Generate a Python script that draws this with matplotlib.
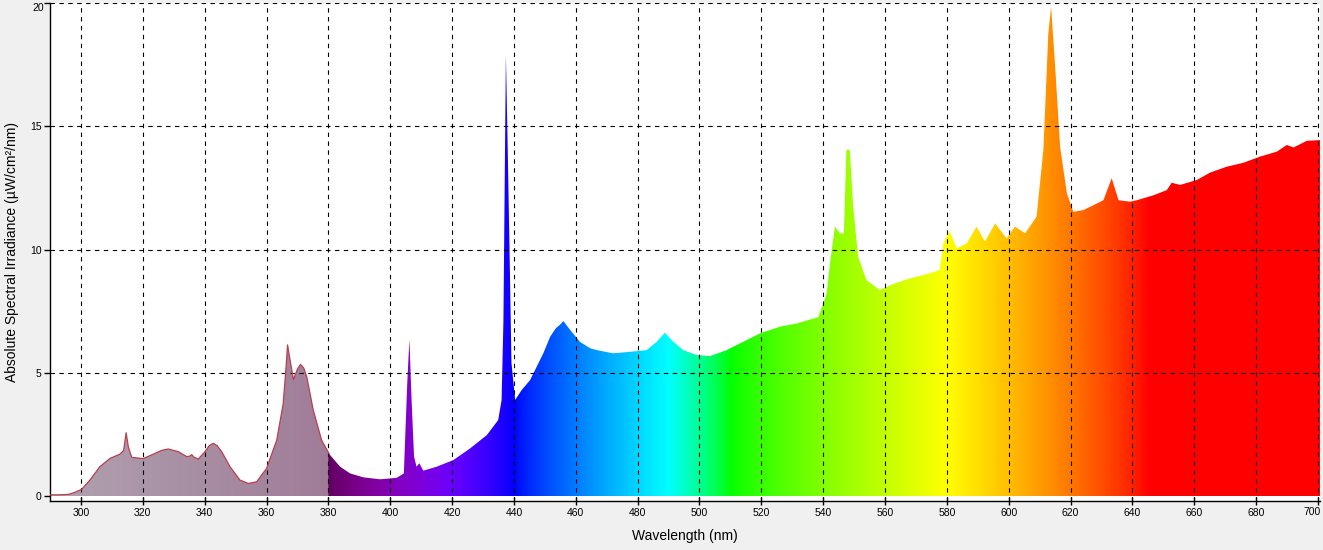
import numpy as np
import matplotlib
matplotlib.use("Agg")
import matplotlib.pyplot as plt
from matplotlib.patches import Polygon

plt.rcParams["font.family"] = ["Liberation Sans", "DejaVu Sans"]

# spectrum (nm, uW/cm2/nm)
wavelength = np.array([
    290.0, 293.0, 296.0, 298.0, 300.2, 302.9, 306.1, 309.4, 312.6, 313.8,
    314.6, 315.3, 316.4, 320.1, 323.4, 326.0, 328.2, 331.5, 334.2, 335.2,
    335.8, 336.5, 337.9, 340.1, 341.5, 342.8, 344.0, 345.5, 348.2, 351.4,
    354.1, 356.8, 360.0, 363.3, 365.4, 366.3, 366.8, 367.5, 368.7, 370.0,
    371.0, 372.0, 373.0, 375.1, 377.8, 380.3, 383.8, 387.0, 391.3, 396.7,
    402.1, 404.4, 405.5, 406.2, 406.9, 407.7, 408.5, 409.4, 410.7, 415.0,
    420.4, 425.8, 431.2, 434.9, 436.0, 436.6, 437.0, 437.4, 438.0, 438.5,
    439.2, 440.4, 442.5, 445.2, 449.5, 451.7, 453.5, 454.9, 456.0, 458.1,
    461.4, 464.6, 466.8, 472.1, 477.5, 482.9, 486.2, 488.8, 491.5, 494.8,
    499.1, 503.4, 508.8, 514.2, 519.6, 526.0, 531.4, 536.8, 538.4, 541.1,
    542.2, 543.8, 545.4, 546.7, 547.5, 548.6, 549.7, 551.3, 554.0, 558.3,
    562.6, 568.0, 573.4, 577.7, 578.8, 580.4, 581.0, 583.2, 586.4, 589.6,
    592.3, 595.6, 599.3, 602.0, 605.3, 609.0, 611.2, 612.8, 613.7, 615.0,
    616.6, 618.8, 620.9, 624.1, 627.4, 630.6, 633.3, 635.5, 639.2, 641.4,
    646.8, 651.1, 652.7, 655.4, 660.8, 665.1, 670.5, 675.9, 681.3, 686.7,
    689.9, 692.1, 696.4, 700.7,
])
irradiance = np.array([
    0.05, 0.05, 0.07, 0.15, 0.27, 0.65, 1.19, 1.53, 1.70, 1.85,
    2.57, 2.00, 1.57, 1.52, 1.70, 1.85, 1.91, 1.80, 1.60, 1.62,
    1.68, 1.58, 1.50, 1.80, 2.05, 2.14, 2.05, 1.80, 1.19, 0.65,
    0.51, 0.58, 1.12, 2.27, 3.76, 5.20, 6.13, 5.60, 4.73, 5.15,
    5.34, 5.20, 4.84, 3.49, 2.27, 1.70, 1.19, 0.92, 0.76, 0.68,
    0.74, 0.92, 4.57, 6.36, 3.90, 1.60, 1.19, 1.33, 1.03, 1.19,
    1.46, 1.93, 2.47, 3.08, 3.89, 7.10, 12.5, 17.9, 14.0, 10.5,
    5.40, 3.90, 4.30, 4.70, 5.79, 6.46, 6.80, 6.95, 7.10, 6.75,
    6.25, 6.00, 5.92, 5.79, 5.85, 5.92, 6.26, 6.63, 6.26, 5.92,
    5.72, 5.68, 5.92, 6.26, 6.60, 6.87, 7.00, 7.20, 7.25, 8.20,
    9.44, 10.93, 10.66, 10.66, 14.04, 14.04, 11.74, 9.71, 8.76, 8.36,
    8.60, 8.83, 9.00, 9.17, 10.25, 10.66, 10.72, 10.05, 10.25, 10.93,
    10.32, 11.06, 10.45, 10.93, 10.66, 11.33, 14.04, 18.77, 19.85, 17.42,
    14.17, 12.28, 11.53, 11.60, 11.80, 12.00, 12.89, 12.00, 11.94, 12.00,
    12.20, 12.41, 12.71, 12.62, 12.82, 13.12, 13.36, 13.52, 13.77, 13.97,
    14.24, 14.14, 14.41, 14.44,
])

x_ticks = list(range(300, 701, 20))
y_ticks = [0, 5, 10, 15, 20]


def wl_color(w):
    # visible colour of a wavelength; mauve for the UV part
    if w < 380:
        t = (w - 290) / 90
        c0 = np.array([176, 162, 176]) / 255
        c1 = np.array([160, 124, 152]) / 255
        return c0 + (c1 - c0) * t
    if w < 440:
        r, g, b = (440 - w) / 60, 0.0, 1.0
    elif w < 490:
        r, g, b = 0.0, (w - 440) / 50, 1.0
    elif w < 510:
        r, g, b = 0.0, 1.0, (510 - w) / 20
    elif w < 580:
        r, g, b = (w - 510) / 70, 1.0, 0.0
    elif w < 645:
        r, g, b = 1.0, (645 - w) / 65, 0.0
    else:
        r, g, b = 1.0, 0.0, 0.0
    f = 0.3 + 0.7 * (w - 380) / 40 if w < 420 else 1.0
    return np.array([(r * f) ** 0.8, (g * f) ** 0.8, (b * f) ** 0.8])


fig = plt.figure(figsize=(13.23, 5.5), dpi=100, facecolor="#f0f0f0")
ax = fig.add_axes([50 / 1323, 49 / 550, 1270 / 1323, 498 / 550])
ax.set_facecolor("white")

xs = np.linspace(290, 700.7, 2400)
img = np.array([[wl_color(w) for w in xs]])
im = ax.imshow(img, extent=[290, 700.7, 0, 20], aspect="auto",
               origin="lower", interpolation="bilinear", zorder=1)

verts = [(wavelength[0], 0)] + list(zip(wavelength, irradiance)) + [(wavelength[-1], 0)]
poly = Polygon(verts, closed=True, facecolor="none", edgecolor="none")
ax.add_patch(poly)
im.set_clip_path(poly)

uv = wavelength <= 380.3
ax.plot(wavelength[uv], irradiance[uv], color="#b8404e", lw=0.9, zorder=3)

ax.set_xlim(289.98, 700.65)
ax.set_ylim(-0.2, 20)
# end labels are drawn separately so they stay inside the figure
ax.set_xticks(x_ticks, labels=[str(v) for v in x_ticks[:-1]] + [""])
ax.set_yticks(y_ticks, labels=[str(v) for v in y_ticks[:-1]] + [""])

ax.set_axisbelow(False)
ax.grid(True, color="black", linestyle=(0, (4, 4)), linewidth=0.8)
ax.yaxis.get_gridlines()[0].set_visible(False)

for s in ["top", "right"]:
    ax.spines[s].set_visible(False)
for s in ["left", "bottom"]:
    ax.spines[s].set_color("black")
    ax.spines[s].set_linewidth(1)

ax.tick_params(axis="x", direction="inout", length=6, width=1, labelsize=7.5, pad=2)
ax.tick_params(axis="y", direction="out", length=4, width=1, labelsize=7.5, pad=2)

ax.annotate(str(x_ticks[-1]), xy=(x_ticks[-1], 0), xycoords=ax.get_xaxis_transform(),
            xytext=(2, -4), textcoords="offset points", ha="right", va="top", fontsize=7.5)
ax.annotate(str(y_ticks[-1]), xy=(0, y_ticks[-1]), xycoords=ax.get_yaxis_transform(),
            xytext=(-4.5, 0), textcoords="offset points", ha="right", va="top", fontsize=7.5)

ax.set_xlabel("Wavelength (nm)", fontsize=10, labelpad=8)
ax.set_ylabel("Absolute Spectral Irradiance (µW/cm²/nm)", fontsize=10, labelpad=8)

fig.savefig("out.png", dpi=100, facecolor=fig.get_facecolor())
